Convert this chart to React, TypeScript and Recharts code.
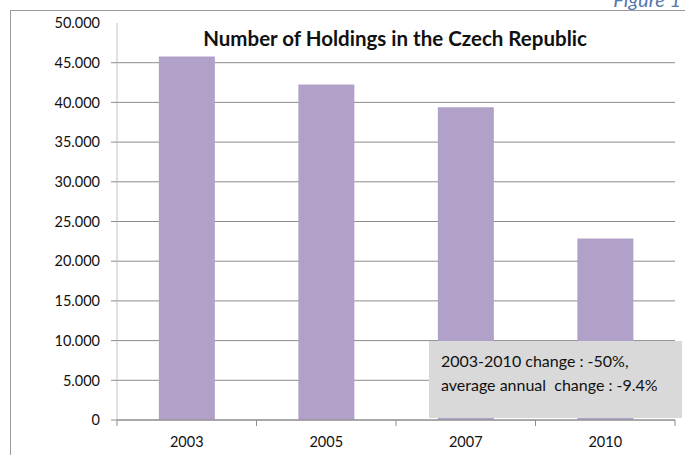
import React from 'react'
import { BarChart, Bar, XAxis, YAxis, CartesianGrid } from 'recharts'

const YEARS = ['2003', '2005', '2007', '2010']
const HOLDINGS = [45769, 42250, 39400, 22864]
const Y_TICKS = [0, 5000, 10000, 15000, 20000, 25000, 30000, 35000, 40000, 45000, 50000]
const GRID_VALUES = [0, 5000, 10000, 15000, 20000, 25000, 30000, 35000, 40000, 45000]

const TITLE = 'Number of Holdings in the Czech Republic'
const FIGURE_LABEL = 'Figure 1'
const NOTE_LINES = ['2003-2010 change : -50%,', 'average annual  change : -9.4%']

const BAR_COLOR = '#b1a1c8'
const GRID_COLOR = '#8c8c8c'
const FONT = 'Lato, "Open Sans", sans-serif'

const W = 685
const H = 455

const data = YEARS.map((year, i) => ({ year, holdings: HOLDINGS[i] }))

const fmt = (v: number) => (v === 0 ? '0' : v.toLocaleString('de-DE'))

function YTick({ x, y, payload }: any) {
  const v = payload.value
  return (
    <g>
      {v < 50000 && <line x1={x + 11} x2={x + 17} y1={y} y2={y} stroke={GRID_COLOR} />}
      <text x={x} y={y} dy="0.36em" textAnchor="end" fontSize={14.5} fontFamily={FONT} fill="#111">
        {fmt(v)}
      </text>
    </g>
  )
}

function XTick({ x, y, payload, index }: any) {
  const half = payload.offset ?? 70
  return (
    <g>
      {index === 0 && <line x1={x - half} x2={x - half} y1={y - 8} y2={y - 2} stroke={GRID_COLOR} />}
      <line x1={x + half} x2={x + half} y1={y - 8} y2={y - 2} stroke={GRID_COLOR} />
      <text x={x} y={y + 19} textAnchor="middle" fontSize={14.5} fontFamily={FONT} fill="#111">
        {payload.value}
      </text>
    </g>
  )
}

export default function App() {
  return (
    <div style={{ position: 'absolute', left: 0, top: 0, width: W, height: H, background: '#fff', overflow: 'hidden' }}>
      <BarChart
        width={W}
        height={H}
        data={data}
        margin={{ top: 23, right: 10, left: 0, bottom: 0 }}
        barCategoryGap="30%"
      >
        <CartesianGrid vertical={false} stroke={GRID_COLOR} horizontalValues={GRID_VALUES} />
        <XAxis
          dataKey="year"
          height={35}
          axisLine={{ stroke: GRID_COLOR }}
          tickLine={false}
          tick={<XTick />}
          interval={0}
        />
        <YAxis
          width={117}
          domain={[0, 50000]}
          ticks={Y_TICKS}
          axisLine={{ stroke: '#c4c4c4' }}
          tickLine={false}
          tickSize={6}
          tickMargin={11}
          tick={<YTick />}
          interval={0}
        />
        <Bar dataKey="holdings" fill={BAR_COLOR} isAnimationActive={false} />
      </BarChart>
      <svg width={W} height={H} style={{ position: 'absolute', left: 0, top: 0, pointerEvents: 'none' }}>
        <line x1={10} x2={W} y1={10.5} y2={10.5} stroke="#9a9a9a" />
        <line x1={10.5} x2={10.5} y1={10} y2={H} stroke="#9a9a9a" />
        <text x={681} y={7} textAnchor="end" fontSize={20} fontStyle="italic" fontFamily={FONT} fill="#5676b0">
          {FIGURE_LABEL}
        </text>
        <text x={395} y={46} textAnchor="middle" fontSize={20.5} fontWeight="bold" fontFamily={FONT} fill="#111">
          {TITLE}
        </text>
        <rect x={429} y={341} width={253} height={77} fill="#d9d9d9" />
        {NOTE_LINES.map((line, i) => (
          <text key={i} x={441} y={367 + i * 24} fontSize={16} fontFamily={FONT} fill="#111" style={{ whiteSpace: 'pre' }}>
            {line}
          </text>
        ))}
      </svg>
    </div>
  )
}
